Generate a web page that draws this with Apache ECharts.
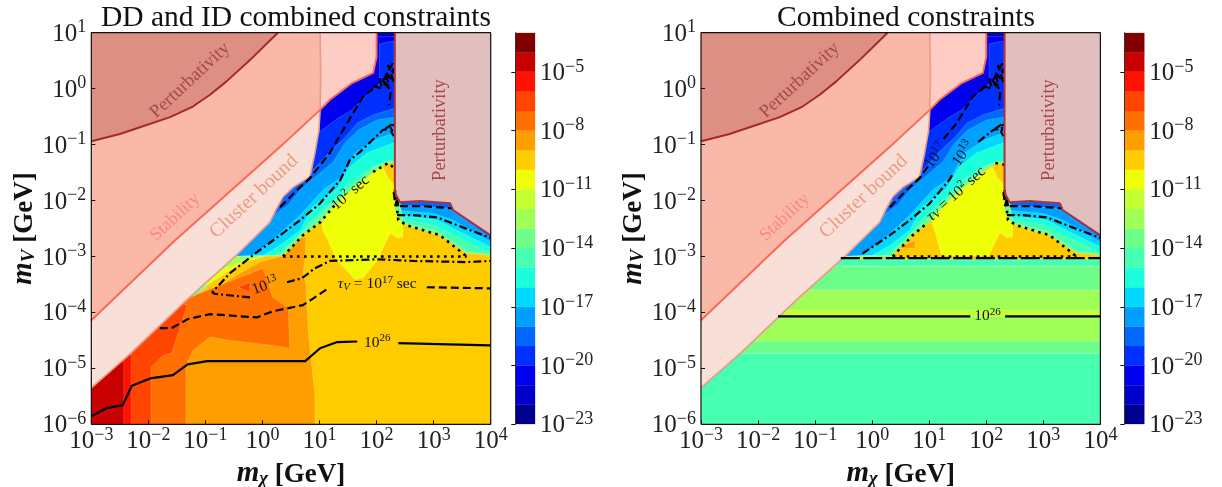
<!DOCTYPE html>
<html>
<head>
<meta charset="utf-8">
<style>html,body{margin:0;padding:0;background:#fff}#main{width:1222px;height:487px}</style>
<script src="https://cdn.jsdelivr.net/npm/echarts@6/dist/echarts.min.js"></script>
</head>
<body>
<div id="main"></div>
<script>
// all points are [log10 m_chi, log10 m_V]
const jet = ['#00008f','#0000c8','#0000f1','#0030ff','#0068ff','#00a0ff','#00d8ff','#1cffdb','#47ffb0','#6dff8a',
             '#a0ff57','#c4ff33','#eeff08','#ffcc00','#ff9e00','#ff7000','#ff4500','#ff1300','#c80000','#800000'];
const cbarLevels = [-23,-22,-21,-20,-19,-18,-17,-16,-15,-14,-13,-12,-11,-10,-9,-8,-7,-6,-5,-4,-3];
const cbarTicks = [-23,-20,-17,-14,-11,-8,-5];

const tail = [[4,-6],[-3,-6],[-3,-5.21]];
const fullBox = [[-3,-6],[4,-6],[4,1],[-3,1]];
const stripTop = [[2,0.93],[2.32,0.93],[2.32,1],[2,1]];
const stripMid = [[2.05,0.2],[2.05,0.8],[2.3,0.85],[2.3,0.2]];
const c3 = [[0.83,-0.92],[0.99,-0.78],[1.32,-0.53],[1.57,-0.38],[1.8,-0.15],[2.01,0.06],[2.32,0.24],[4,0.24]];
const c4 = [[0.13,-2.26],[0.75,-1.55],[0.92,-1.42],[1.18,-1.13],[1.45,-0.87],[1.66,-0.62],[1.94,-0.47],[2.32,-0.35],[4,-0.35]];
const c5 = [[-0.04,-2.44],[0.27,-2.21],[0.45,-2.08],[0.66,-1.81],[0.96,-1.55],[1.24,-1.31],[1.45,-0.97],[1.68,-0.74],[2.01,-0.56],[2.32,-0.51],
            [2.32,-2.08],[3.29,-2.14],[3.39,-2.23],[4,-2.67]];
const c6 = [[-1.09,-3.51],[-0.46,-3],[-0.17,-2.98],[0.18,-2.71],[0.66,-2.26],[1.06,-1.81],[1.39,-1.58],[1.62,-1.15],[1.97,-0.92],[2.32,-0.78],
            [2.32,-2.17],[3,-2.23],[3.34,-2.35],[4,-2.74]];
const c7 = [[-1.09,-3.51],[-0.46,-3],[0.01,-2.98],[0.31,-2.8],[0.66,-2.53],[0.87,-2.12],[1.31,-1.78],[1.53,-1.4],[1.83,-1.15],[2.32,-0.96],
            [2.38,-2.26],[3.06,-2.35],[3.41,-2.53],[4,-2.83]];
const c8 = [[-1.09,-3.51],[-0.46,-3],[0.22,-2.98],[0.57,-2.71],[0.83,-2.39],[1.24,-1.99],[1.59,-1.64],[1.92,-1.4],[2.15,-1.33],
            [2.38,-2.31],[3,-2.44],[4,-2.94]];
const c9 = [[-1.09,-3.51],[-0.46,-3],[0.31,-2.98],[0.66,-2.6],[0.96,-2.33],[1.24,-2.03],[1.62,-1.71],[1.97,-1.4],[2.18,-1.3],[2.32,-1.3],
            [2.46,-2.39],[3.06,-2.55],[3.6,-2.92],[4,-2.96]];
const goldTop = [[0.36,-2.98],[0.71,-2.62],[1.01,-2.39],[1.27,-2.08],[1.66,-1.76],[1.97,-1.46],[2.2,-1.33],[2.32,-1.33],[2.32,-2.17],
                 [2.38,-2.35],[2.53,-2.44],[2.94,-2.57],[3.11,-2.62],[3.58,-2.94],[4,-2.98]];
const yellowTop = [[1.13,-2.23],[1.41,-1.94],[1.66,-1.72],[1.97,-1.49],[2.11,-1.4],[2.2,-1.6],[2.32,-1.72],[2.32,-2.17],[2.46,-2.44],[2.46,-2.65],[2.36,-2.67],[2.24,-2.58]];

// left panel only
const lGoldLeft = [[4,-6],[-3,-6],[-3,-5.57],[-1.45,-3.96],[-0.92,-3.48],[-0.39,-3.12],[0.01,-3]];
const lYellowLow = [[2.01,-3.07],[1.76,-3.39],[1.62,-3.41],[1.31,-3.07],[1.06,-2.53],[1.04,-2.44]];
const lGreenSliver = [[-1.09,-3.6],[-0.53,-3],[0.01,-3],[-0.39,-3.12],[-0.92,-3.48]];
const lYellowSliver = [[-1.01,-3.51],[-0.66,-3.21],[-0.31,-3.07],[0.01,-3],[-0.39,-3.12],[-0.92,-3.48]];
const lC14 = [[0.92,-6],[0.92,-5.51],[0.8,-4.32],[0.76,-3.48],[0.71,-3.3],[0.75,-3],[0.76,-2.65],[0.66,-2.67],[0.36,-2.99],[-0.04,-3.1],
              [-0.39,-3.3],[-0.74,-3.51],[-1.15,-3.66],[-1.97,-4.5],[-3,-5.5],[-3,-6]];
const lC15 = [[0.01,-3.21],[0.18,-3.73],[0.45,-3.92],[0.48,-4.64],[0.18,-4.59],[-0.57,-4.5],[-0.92,-4.44],[-1.22,-4.68],[-1.32,-4.91],[-1.34,-5],
              [-1.34,-6],[-3,-6],[-3,-5.2],[-1.32,-3.75]];
const lC16 = [[-1.95,-6],[-1.95,-4.98],[-1.74,-4.77],[-1.59,-4.73],[-1.32,-3.87],[-1.62,-3.78],[-3,-5.2],[-3,-6]];
const lC16Spot = [[-0.43,-3.55],[-0.22,-3.46],[-0.22,-3.64]];
const lC17 = [[-2.3,-6],[-2.3,-4.7],[-3,-5.2],[-3,-6]];
const lC18 = [[-2.43,-6],[-2.43,-4.8],[-3,-5.2],[-3,-6]];

// right panel only
const rGoldStrip = [[4,-3.05],[-0.55,-3.05],[-0.55,-3.01],[0.36,-3.01]];
const rYellowLow = [[2.04,-2.99],[1.22,-2.99],[1.04,-2.35]];
const rOrangeSpot = [[0.46,-2.85],[0.75,-2.71],[0.75,-2.85]];
const rBands = [[-6,-4.73,8],[-4.73,-4.51,9],[-4.51,-3.6,10],[-4.07,-3.96,11],[-3.6,-3.17,9],[-3.17,-3.03,8]];

// excluded regions
const clusterEdge = [[-3,-5.35],[-2.32,-4.74],[-1.33,-3.78],[-0.46,-2.98],[-0.31,-2.83],[0.13,-2.39],[0.25,-2.14],[0.36,-1.94],[0.54,-1.76],
                     [0.83,-1.58],[0.92,-1.15],[0.99,-0.74],[1.01,-0.38],[1.02,0.21],[1.01,1]];
const stabilityEdge = [[-3,-4.14],[-1.53,-2.71],[0.31,-1.04],[1.01,-0.38],[1.18,-0.2],[1.57,0.1],[1.94,0.28],[2,0.57],[2,1]];
const overlapEdge = [[-3,-4.14],[-1.53,-2.71],[0.31,-1.04],[1.01,-0.38],[1.02,0.21],[1.01,1]];
const perturbTL = [[-3,-0.94],[-2.5,-0.81],[-2.03,-0.65],[-1.62,-0.51],[-1.22,-0.32],[-0.92,-0.11],[-0.63,0.13],[-0.22,0.51],[0.27,1]];
const perturbR = [[2.32,1],[2.32,-1.81],[2.34,-1.9],[2.41,-2.03],[2.76,-2.01],[3.29,-2.05],[3.34,-2.17],[4,-2.62]];

// lifetime contours, left panel
const l26a = [[-2.99,-5.85],[-2.73,-5.71],[-2.45,-5.66],[-2.29,-5.31],[-1.97,-5.18],[-1.57,-5.12],[-1.31,-4.93],[-0.97,-4.87],[0.75,-4.87],[1.01,-4.64],[1.31,-4.53],[1.66,-4.52]];
const l26b = [[2.38,-4.55],[3.99,-4.59]];
const l17a = [[-1.8,-4.28],[-1.59,-4.28],[-1.31,-4.12],[-0.92,-4.03],[-0.1,-4.09],[0.18,-3.98],[0.71,-3.87],[0.89,-3.75],[1.15,-3.57]];
const l17b = [[2.88,-3.55],[4,-3.57]];
const l17c = [[0.31,-2.12],[0.61,-1.81],[0.83,-1.6],[1.18,-1.15],[1.48,-0.62],[1.76,-0.15],[2.01,0.06]];
const l17d = [[2.41,-2.1],[2.81,-2.1],[3.34,-2.14]];
const l13a = [[-0.22,-3.73],[-0.83,-3.67],[-0.88,-3.64],[-0.57,-3.3],[-0.17,-2.98],[0.31,-2.62],[0.66,-2.35],[1.01,-2.05],[1.36,-1.64],[1.53,-1.28],[1.71,-1.13],[2.11,-0.74],[2.32,-0.69]];
const l13b = [[0.43,-3.46],[0.69,-3.39],[0.92,-3.21],[1.18,-3.08],[2.01,-3.05],[2.64,-3.08],[3.58,-3.1],[4,-3.08]];
const l13c = [[2.36,-2.26],[2.64,-2.26],[3.06,-2.3],[3.51,-2.48],[4,-2.67]];
const l2a = [[0.36,-3],[3.58,-3]];
const l2b = [[0.36,-3],[0.71,-2.62],[1.01,-2.39],[1.27,-2.08]];
const l2c = [[1.94,-1.49],[2.2,-1.33],[2.31,-1.42]];
const l2d = [[2.32,-1.81],[2.38,-2.35],[2.53,-2.44],[2.94,-2.57],[3.11,-2.62],[3.58,-3]];
const wallClump = [[2.3,-1.85],[2.33,-2.1],[2.36,-1.95],[2.38,-2.1]];
const topClump = [[1.94,0.05],[2.1,0],[2.05,0.18],[2.22,0.05],[2.15,0.3],[2.3,0.12],[2.2,0.42],[2.3,0.28],[2.28,0.45],[2.1,0.12],[2.25,-0.02],[2.22,-0.3]];
const midClump = [[2.15,-0.72],[2.3,-0.62],[2.26,-0.78],[2.31,-0.86]];

// lifetime contours, right panel
const r26a = [[-1.65,-4.07],[1.72,-4.07]];
const r26b = [[2.33,-4.07],[4,-4.07]];
const rFlat = [[-0.55,-3.03],[4,-3.03]];
const r17a = [[0.31,-2.12],[0.61,-1.81],[0.83,-1.6],[1.02,-1.33]];
const r17b = [[1.25,-0.9],[1.48,-0.62],[1.76,-0.15],[2.01,0.06]];
const r13a = [[-0.17,-2.95],[0.31,-2.62],[0.66,-2.35],[1.01,-2.05],[1.36,-1.62],[1.42,-1.51]];
const r13b = [[1.86,-0.95],[2.12,-0.74],[2.32,-0.69]];
const r2b = [[0.36,-3],[0.71,-2.62],[0.97,-2.4]];
const r2c = [[2.16,-1.33],[2.31,-1.36]];

const serif = '"Liberation Serif", "DejaVu Serif", serif';
const DASH = [8,4], DASHDOT = [8,3,2,3], DOT = [2.6,4.4], LONGDASH = [19,3.5];
const regionLabels = [['Perturbativity',-1.27,0.15,43,'#a8474a',18.5],['Stability',-1.53,-2.3,43,'#f98a79',18],['Cluster bound',-0.15,-1.93,43,'#ec9a85',20],['Perturbativity',3.11,-0.74,90,'#a8474a',18.5]];
const leftNotes = [['{a|10}{s|26}',2.01,-4.52,0],['{t|τ}{u|V}{a| = 10}{s|17}{a| sec}',2.01,-3.48,0],['{a|10}{s|13}',0.04,-3.51,20],['{a|10}{s|2}{a| sec}',1.53,-1.85,41]];
const rightNotes = [['{a|10}{s|26}',2.02,-4.05,0],['{a|10}{s|17}',1.1,-1.19,55],['{a|10}{s|13}',1.58,-1.15,55],['{t|τ}{u|V}{a| = 10}{s|2}{a| sec}',1.46,-1.87,42]];

const E = (p) => [Math.pow(10,p[0]), Math.pow(10,p[1])];
const noteRich = {
  a:{fontFamily:serif,fontSize:15.5,lineHeight:18,verticalAlign:'bottom',fill:'#111',color:'#111'},
  s:{fontFamily:serif,fontSize:11,lineHeight:10,verticalAlign:'top',fill:'#111',color:'#111'},
  t:{fontFamily:serif,fontStyle:'italic',fontSize:15.5,lineHeight:18,verticalAlign:'bottom',fill:'#111',color:'#111'},
  u:{fontFamily:serif,fontStyle:'italic',fontSize:11,lineHeight:18,verticalAlign:'bottom',fill:'#111',color:'#111',padding:[4,0,0,0]}
};

function contourLayers(own) {
  return [[2,fullBox],[1,stripTop],[3,stripMid],[3,[...c3,...tail]],[4,[...c4,...tail]],[5,[...c5,...tail]],[6,[...c6,...tail]],
          [7,[...c7,...tail]],[8,[...c8,...tail]],[9,[...c9,...tail]]].concat(own);
}
const leftLayers = contourLayers([
  [10,lGreenSliver],[13,[...lGoldLeft,...goldTop]],[12,lYellowSliver],[12,[...yellowTop,...lYellowLow]],
  [14,lC14],[15,lC15],[16,lC16],[16,lC16Spot],[17,lC17],[18,lC18]]);
const rightLayers = contourLayers(
  rBands.map(b => [b[2],[[-3,b[0]],[4,b[0]],[4,b[1]],[-3,b[1]]]]).concat([
  [13,[...goldTop,...rGoldStrip]],[12,[...yellowTop,...rYellowLow]],[14,rOrangeSpot]]));
const overlayLayers = [
  ['#f8dfd8',[...clusterEdge,[-3,1]]],
  ['#fdcdc5',[...stabilityEdge,[-3,1]]],
  ['#fab8a9',[...overlapEdge,[-3,1]]],
  ['#de8f83',[...perturbTL,[-3,1]]],
  ['#e2bfbf',[...perturbR,[4,1]]]
];

function regionSeries(i, layers) {
  const n = layers.length + overlayLayers.length;
  return {
    type:'custom', xAxisIndex:i, yAxisIndex:i, clip:true, silent:true, animation:false, z:2,
    data:Array.from({length:n},(_,k)=>[1,1,k]),
    renderItem:(params,api) => {
      const k = api.value(2);
      const isC = k < layers.length;
      const pts = isC ? layers[k][1] : overlayLayers[k-layers.length][1];
      const fill = isC ? jet[layers[k][0]] : overlayLayers[k-layers.length][0];
      return {type:'polygon', shape:{points:pts.map(p=>api.coord(E(p)))},
        style:{fill:fill, stroke:isC?'rgba(255,255,255,0.3)':fill, lineWidth:isC?0.6:0.3}};
    }
  };
}
function lineSeries(i, pts, dash, color, width, z) {
  return {type:'line', xAxisIndex:i, yAxisIndex:i, data:pts.map(E), showSymbol:false, symbol:'none', silent:true, animation:false,
    clip:true, z:z||4, lineStyle:{color:color||'#000', width:width||(dash===DOT?2.6:2.2), type:dash||'solid'}};
}
function noteSeries(i, notes) {
  return {type:'custom', xAxisIndex:i, yAxisIndex:i, silent:true, animation:false, z:6,
    data:notes.map((_,k)=>[1,1,k]),
    renderItem:(params,api) => {
      const n = notes[api.value(2)];
      const c = api.coord(E([n[1],n[2]]));
      return {type:'text', x:c[0], y:c[1], rotation:n[3]*Math.PI/180,
        style:n[4] ? {text:n[0], fill:n[4], font:n[5]+'px '+serif, align:'center', verticalAlign:'middle'}
                   : {text:n[0], rich:noteRich, fill:'#111', align:'center', verticalAlign:'middle'}};
    }};
}
function frameSeries(i) {
  return lineSeries(i, [[-3,-6],[4,-6],[4,1],[-3,1],[-3,-6]], 'solid', '#111', 1.2, 8);
}
const boundaries = (i) => [
  lineSeries(i, clusterEdge, 'solid', '#ea9a86', 1.6, 3),
  lineSeries(i, stabilityEdge, 'solid', '#ff6652', 1.9, 3),
  lineSeries(i, perturbTL, 'solid', '#a32a2a', 2, 3),
  lineSeries(i, perturbR, 'solid', '#a8333a', 2, 7)
];
function colorbarSeries(i) {
  return {type:'custom', xAxisIndex:i, yAxisIndex:i, silent:true, animation:false, clip:true, z:2,
    data:jet.map((_,k)=>[0,cbarLevels[k],k]),
    renderItem:(params,api) => {
      const k = api.value(2);
      const a = api.coord([0,cbarLevels[k]]), b = api.coord([1,cbarLevels[k+1]]);
      return {type:'rect', shape:{x:a[0],y:b[1],width:b[0]-a[0],height:a[1]-b[1]}, style:{fill:jet[k], stroke:jet[k], lineWidth:0.3}};
    }};
}
const tickRich = {
  b:{fontFamily:serif,fontSize:25,color:'#222',lineHeight:28,verticalAlign:'bottom'},
  s:{fontFamily:serif,fontSize:18,color:'#222',lineHeight:17,verticalAlign:'top'}
};
const expText = (n) => '{b|10}{s|' + String(n).replace('-','\u2212') + '}';
const logLabel = (v) => expText(Math.round(Math.log10(v)));
const nameRich = {
  m:{fontFamily:serif,fontStyle:'italic',fontWeight:'bold',fontSize:29,color:'#111',lineHeight:30,verticalAlign:'bottom'},
  u:{fontFamily:serif,fontStyle:'italic',fontWeight:'bold',fontSize:19,color:'#111',lineHeight:24,verticalAlign:'bottom',padding:[6,0,0,0]},
  g:{fontFamily:serif,fontWeight:'bold',fontSize:27,color:'#111',lineHeight:30,verticalAlign:'bottom'}
};
function xLog(i) {
  return {type:'log', logBase:10, gridIndex:i, min:1e-3, max:1e4, name:'{m|m}{u|\u03c7}{g| [GeV]}', nameLocation:'middle', nameGap:25,
    nameTextStyle:{rich:nameRich}, axisLine:{show:false}, axisTick:{inside:true,length:4,lineStyle:{color:'#111',width:1}},
    minorTick:{show:false}, splitLine:{show:false}, z:9,
    axisLabel:{formatter:logLabel, rich:tickRich, margin:2, hideOverlap:false, showMinLabel:true, showMaxLabel:true, alignMinLabel:'center', alignMaxLabel:'center'}};
}
function yLog(i) {
  return {type:'log', logBase:10, gridIndex:i, min:1e-6, max:10, name:'{m|m}{u|V}{g| [GeV]}', nameLocation:'middle', nameGap:50, nameRotate:90,
    nameTextStyle:{rich:nameRich}, axisLine:{show:false}, axisTick:{inside:true,length:4,lineStyle:{color:'#111',width:1}},
    minorTick:{show:false}, splitLine:{show:false}, z:9,
    axisLabel:{formatter:logLabel, rich:tickRich, margin:5, hideOverlap:false, showMinLabel:true, showMaxLabel:true, verticalAlignMinLabel:'middle', verticalAlignMaxLabel:'middle'}};
}
function xBar(i) {
  return {type:'value', gridIndex:i, min:0, max:1, show:false};
}
function yBar(i) {
  return {type:'value', gridIndex:i, min:-23, max:-3, position:'right', splitLine:{show:false}, z:9,
    axisLine:{show:true,lineStyle:{color:'#333',width:1}},
    axisTick:{show:true,inside:true,length:4,lineStyle:{color:'#111',width:1},customValues:cbarTicks},
    axisLabel:{show:true,formatter:(v)=>expText(v),rich:tickRich,margin:5,customValues:cbarTicks,hideOverlap:false,showMinLabel:true}};
}

const chart = echarts.init(document.getElementById('main'), null, {renderer:'canvas'});
chart.setOption({
  animation:false,
  backgroundColor:'#fff',
  title:[
    {text:'DD and ID combined constraints', left:291, top:-2, textAlign:'center', textStyle:{fontFamily:serif,fontWeight:'normal',fontSize:29.5,color:'#111'}},
    {text:'Combined constraints', left:901, top:-2, textAlign:'center', textStyle:{fontFamily:serif,fontWeight:'normal',fontSize:29.5,color:'#111'}}
  ],
  grid:[
    {left:91.3, top:32.7, width:399.4, height:391.6, outerBoundsMode:'none'},
    {left:701, top:32.7, width:399.4, height:391.6, outerBoundsMode:'none'},
    {left:515.3, top:32.7, width:19.7, height:391.6, outerBoundsMode:'none'},
    {left:1124.3, top:32.7, width:20, height:391.6, outerBoundsMode:'none'}
  ],
  xAxis:[xLog(0), xLog(1), xBar(2), xBar(3)],
  yAxis:[yLog(0), yLog(1), yBar(2), yBar(3)],
  series:[
    regionSeries(0,leftLayers), regionSeries(1,rightLayers),
    ...boundaries(0), ...boundaries(1),
    lineSeries(0,l26a), lineSeries(0,l26b),
    lineSeries(0,l17a,DASH), lineSeries(0,l17b,DASH), lineSeries(0,l17c,DASH), lineSeries(0,l17d,DASH),
    lineSeries(0,l13a,DASHDOT), lineSeries(0,l13b,DASHDOT), lineSeries(0,l13c,DASHDOT),
    lineSeries(0,l2a,DOT), lineSeries(0,l2b,DOT), lineSeries(0,l2c,DOT), lineSeries(0,l2d,DOT),
    lineSeries(0,topClump,DASH), lineSeries(0,midClump,DASHDOT), lineSeries(0,wallClump,DASH),
    lineSeries(1,r26a), lineSeries(1,r26b),
    lineSeries(1,rFlat,LONGDASH),
    lineSeries(1,r17a,DASH), lineSeries(1,r17b,DASH), lineSeries(1,l17d,DASH),
    lineSeries(1,r13a,DASHDOT), lineSeries(1,r13b,DASHDOT), lineSeries(1,l13c,DASHDOT),
    lineSeries(1,l2a,DOT), lineSeries(1,r2b,DOT), lineSeries(1,r2c,DOT), lineSeries(1,l2d,DOT),
    lineSeries(1,topClump,DASH), lineSeries(1,midClump,DASHDOT), lineSeries(1,wallClump,DASH),
    noteSeries(0,regionLabels), noteSeries(1,regionLabels),
    noteSeries(0,leftNotes), noteSeries(1,rightNotes),
    frameSeries(0), frameSeries(1),
    colorbarSeries(2), colorbarSeries(3)
  ]
});
</script>
</body>
</html>
